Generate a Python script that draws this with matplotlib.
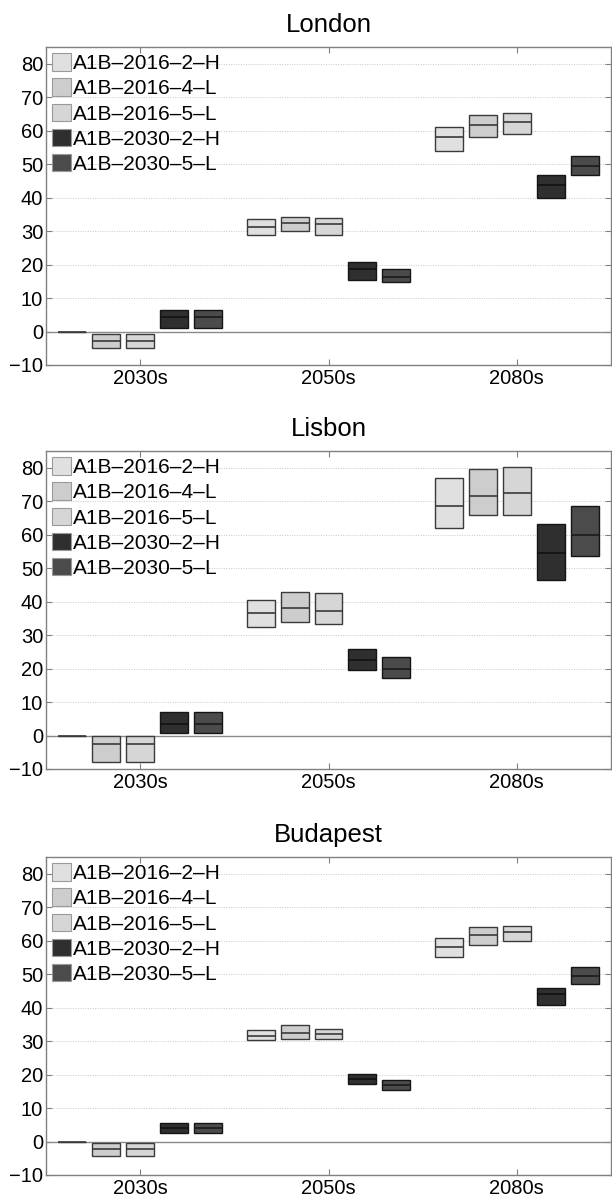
import matplotlib
matplotlib.use("Agg")
import matplotlib.pyplot as plt
from matplotlib.patches import Patch
import numpy as np

plt.rcParams["font.family"] = ["Liberation Sans", "DejaVu Sans"]

periods = ["2030s", "2050s", "2080s"]
scenarios = ["A1B\u20132016\u20132\u2013H", "A1B\u20132016\u20134\u2013L", "A1B\u20132016\u20135\u2013L",
             "A1B\u20132030\u20132\u2013H", "A1B\u20132030\u20135\u2013L"]
cities = ["London", "Lisbon", "Budapest"]

# per period: five scenarios (low, median, high)
london_low = [[0, -5.0, -5.0, 1.0, 1.0], [28.8, 30.1, 28.8, 15.4, 14.7], [54.0, 58.2, 58.9, 40.0, 46.7]]
london_med = [[0, -2.9, -2.9, 4.2, 4.2], [31.3, 32.5, 32.1, 18.6, 16.4], [58.2, 61.6, 62.7, 43.7, 49.5]]
london_high = [[0, -0.8, -0.8, 6.5, 6.5], [33.7, 34.3, 34.0, 20.8, 18.8], [61.0, 64.6, 65.2, 46.9, 52.5]]

lisbon_low = [[0, -7.9, -7.9, 0.8, 0.8], [32.4, 33.8, 33.4, 19.5, 17.3], [62.0, 65.8, 66.0, 46.5, 53.6]]
lisbon_med = [[0, -2.5, -2.5, 3.5, 3.5], [36.5, 38.0, 37.3, 22.5, 19.9], [68.6, 71.6, 72.5, 54.6, 60.0]]
lisbon_high = [[0, 0, 0, 7.0, 7.0], [40.4, 43.0, 42.6, 25.7, 23.6], [76.9, 79.5, 80.1, 63.1, 68.5]]

budapest_low = [[0, -4.2, -4.2, 2.4, 2.4], [30.3, 30.7, 30.7, 17.1, 15.3], [55.0, 58.6, 59.8, 40.8, 47.0]]
budapest_med = [[0, -2.3, -2.3, 4.1, 4.1], [31.5, 32.5, 32.2, 18.6, 16.8], [58.1, 61.6, 62.6, 44.0, 49.4]]
budapest_high = [[0, -0.5, -0.5, 5.6, 5.6], [33.2, 34.7, 33.7, 20.2, 18.3], [60.7, 64.1, 64.5, 45.8, 52.2]]

face_colors = ["#e0e0e0", "#cdcdcd", "#d6d6d6", "#2f2f2f", "#4b4b4b"]
edge_colors = ["#3a3a3a", "#3a3a3a", "#3a3a3a", "#151515", "#151515"]
median_colors = ["#3a3a3a", "#3a3a3a", "#3a3a3a", "#111111", "#1a1a1a"]

city_data = {
    "London": (london_low, london_med, london_high),
    "Lisbon": (lisbon_low, lisbon_med, lisbon_high),
    "Budapest": (budapest_low, budapest_med, budapest_high),
}

fig = plt.figure(figsize=(6.12, 11.97), dpi=100)
ax_h = 318 / 1197
bottoms = [1 - 365 / 1197, 1 - 769 / 1197, 1 - 1175 / 1197]

offsets = (np.arange(5) - 2) * 0.18
width = 0.148
frame_col = "#808080"

for city, bot in zip(cities, bottoms):
    ax = fig.add_axes([46 / 612, bot, 565 / 612, ax_h])
    low, med, high = (np.array(a, dtype=float) for a in city_data[city])
    centers = np.arange(1, len(periods) + 1)

    ax.axhline(0, color="#8a8a8a", linewidth=1.0, zorder=1)
    for j in range(len(scenarios)):
        xs = centers + offsets[j]
        ax.bar(xs, high[:, j] - low[:, j], bottom=low[:, j], width=width,
               color=face_colors[j], edgecolor=edge_colors[j], linewidth=1.0, zorder=3)
        ax.hlines(med[:, j], xs - width / 2, xs + width / 2,
                  color=median_colors[j], linewidth=1.2, zorder=4)

    ax.set_xlim(0.5, 3.5)
    ax.set_ylim(-10, 85)
    ax.set_xticks(centers)
    ax.set_xticklabels(periods)
    ax.set_yticks(np.arange(-10, 81, 10))
    ax.tick_params(direction="in", top=True, right=True, length=4, width=0.8,
                   color=frame_col, labelsize=14.5, pad=2)
    ax.tick_params(axis="x", pad=3)
    for sp in ax.spines.values():
        sp.set_color(frame_col)
        sp.set_linewidth(1.0)
    ax.grid(True, axis="y", linestyle=(0, (1, 1.5)), color="#c8c8c8", linewidth=0.7, zorder=0)
    ax.set_axisbelow(True)
    ax.set_title(city, fontsize=18.5, pad=11)

    handles = [Patch(facecolor=face_colors[j], edgecolor="#9a9a9a", linewidth=0.8)
               for j in range(len(scenarios))]
    ax.legend(handles, scenarios, loc="upper left", frameon=False, fontsize=15,
              handlelength=0.88, handleheight=0.92, handletextpad=0.1,
              labelspacing=0.25, borderpad=0.0, borderaxespad=0.3)

fig.savefig("out.png", dpi=100)
